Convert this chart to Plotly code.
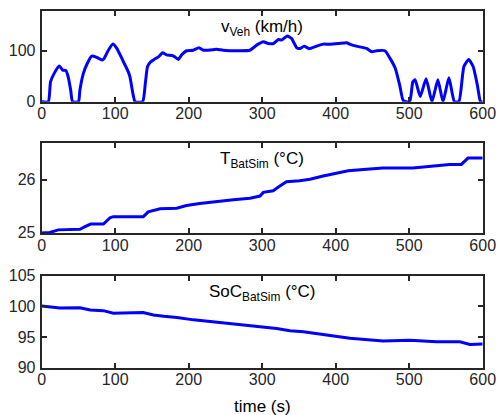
import plotly.graph_objects as go

# ---- data ----
t_v = [0, 9, 12, 17, 24, 28.5, 33, 36, 39.4, 42, 50, 52, 56.7, 62, 68, 75, 82, 85, 90.7, 97, 102,
       110, 117.7, 120, 124.5, 127, 137.3, 141, 144, 148, 153, 158.7, 164.6, 170, 179, 186, 190.5,
       197, 206, 214, 220, 233, 238, 247, 270, 283, 292.5, 301.5, 308, 315, 322, 326.5, 334, 340,
       346.9, 351.4, 357, 364, 374, 383, 392, 403.5, 415, 419, 428, 442, 449, 455.8, 467, 474, 481,
       487, 492, 500.5, 505, 508, 515, 523, 531, 539, 546, 554, 561.5, 567.6, 574.4, 581, 587,
       592.7, 597, 600]
v_veh = [0, 0, 39, 55.6, 70, 62, 61, 49, 23, 0, 0, 23, 55.6, 75, 89.6, 87, 82, 85, 101, 113, 105,
         82, 59, 49, 13, 0, 0, 36, 69, 78, 83, 88, 96, 92, 90, 83, 92,
         100, 101, 106, 101, 102, 103, 101, 100, 101, 111, 117.6, 114.4, 114, 122, 121, 129, 124,
         106, 104.5, 109, 104, 109, 113, 112.7, 114, 115.7, 113, 109, 104.5, 98, 100, 100, 85, 65.5,
         33, 2, 0, 39, 43, 10, 45, 0, 43, 0, 47, 0, 0, 69, 83, 69,
         33, 0, 0]

t_T = [0, 11, 22.6, 52, 58.9, 66.6, 84, 93, 97.5, 138.3, 145, 152, 161, 183.7, 197, 215, 238,
       260.7, 283.4, 297, 301.5, 315, 322, 333, 351, 365, 383, 401, 417, 442, 464.4, 505, 537,
       555, 571, 580, 600]
T_bat = [24.99, 25.0, 25.05, 25.06, 25.11, 25.16, 25.16, 25.28, 25.30, 25.30, 25.39, 25.42, 25.45,
         25.46, 25.51, 25.55, 25.59, 25.62, 25.65, 25.69, 25.76, 25.79, 25.86, 25.96, 25.98, 26.01,
         26.07, 26.12, 26.17, 26.20, 26.22, 26.22, 26.26, 26.29, 26.29, 26.41, 26.41]

t_S = [0, 11, 24.7, 52, 66, 84, 97.5, 138, 152, 166, 184, 206.6, 238, 270, 283.4, 301.5, 319.7,
       337.8, 356, 387.6, 419.4, 464.6, 500.8, 537, 569, 582.6, 600]
soc = [100.06, 99.95, 99.72, 99.78, 99.4, 99.3, 98.87, 99.0, 98.6, 98.4, 98.2, 97.8, 97.4, 97.07,
       96.9, 96.7, 96.4, 96.03, 95.87, 95.33, 94.8, 94.35, 94.46, 94.24, 94.24, 93.8, 93.85]

x_ticks = [0, 100, 200, 300, 400, 500, 600]
titles = ["v<sub>Veh</sub> (km/h)", "T<sub>BatSim</sub> (°C)", "SoC<sub>BatSim</sub> (°C)"]

# ---- figure ----
W, H = 500, 415
xdom = [41.7 / W, 482.7 / W]
ydoms = [[1 - 101.7 / H, 1 - 11 / H], [1 - 233.3 / H, 1 - 143.3 / H], [1 - 367.7 / H, 1 - 275.7 / H]]
yranges = [[0, 178], [24.985, 26.69], [90, 105]]
yticks = [[0, 100], [25, 26], [90, 95, 100, 105]]
shapes = ["spline", "linear", "linear"]

fig = go.Figure()
series = [(t_v, v_veh), (t_T, T_bat), (t_S, soc)]
axc = "#262626"
font = "Liberation Sans, Arial, sans-serif"
for i, (tx, ty) in enumerate(series):
    n = "" if i == 0 else str(i + 1)
    fig.add_trace(go.Scatter(x=tx, y=ty, mode="lines",
                             line=dict(color="#0000ff", width=3, shape=shapes[i], smoothing=0.5),
                             xaxis="x" + n, yaxis="y" + n, showlegend=False))
    common = dict(showline=True, linecolor=axc, linewidth=2, mirror="ticks", ticks="inside",
                  ticklen=5, tickwidth=1.5, tickcolor=axc, showgrid=False, zeroline=False,
                  tickfont=dict(family=font, size=16, color=axc), automargin=False)
    fig.update_layout(**{
        "xaxis" + n: dict(domain=xdom, range=[0, 600], tickvals=x_ticks, anchor="y" + n,
                          ticklabelstandoff=-4, **common),
        "yaxis" + n: dict(domain=ydoms[i], range=yranges[i], tickvals=yticks[i], anchor="x" + n,
                          ticklabelstandoff=1, **common),
    })
    fig.add_annotation(text=titles[i], xref="x%s domain" % n, yref="y%s domain" % n,
                       x=0.5, y=1, xanchor="center", yanchor="top", yshift=-4, showarrow=False,
                       font=dict(family=font, size=17, color="#000000"))

fig.add_annotation(text="time (s)", xref="paper", yref="paper", x=(xdom[0] + xdom[1]) / 2,
                   y=1 - 395 / H, xanchor="center", yanchor="top", showarrow=False,
                   font=dict(family=font, size=17, color="#000000"))

fig.update_layout(width=W, height=H, margin=dict(l=0, r=0, t=0, b=0),
                  paper_bgcolor="white", plot_bgcolor="white")
fig.write_html("out.html")
